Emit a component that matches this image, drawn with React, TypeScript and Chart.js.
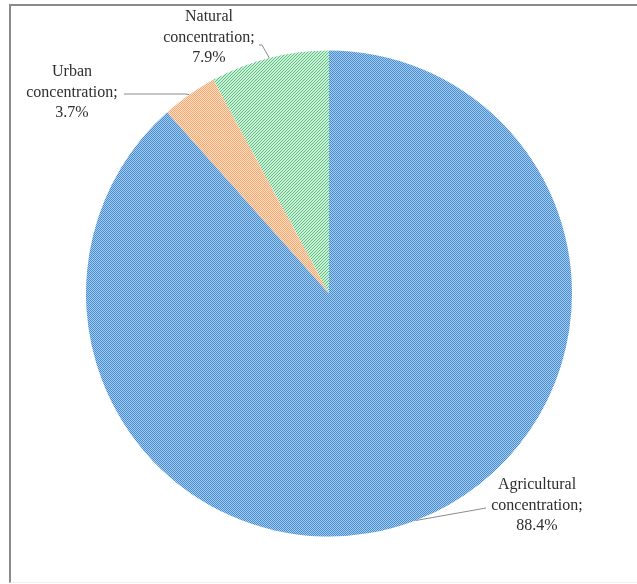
import React, { useEffect, useRef } from "react";
import { Chart, registerables } from "chart.js";

Chart.register(...registerables);

const categories = ["Agricultural", "Urban", "Natural"];
const values = [88.4, 3.7, 7.9];
const labelSuffix = "concentration;";

// label layout: text block centre x, first line centre y, leader elbow points
const labelBoxes = [
  { cx: 537, cy: 485, path: [[486, 508]] },
  { cx: 72, cy: 72, path: [[186, 94], [124, 94]] },
  { cx: 209, cy: 17, path: [[262, 45], [259, 45]] },
];

function makePattern(kind: string): CanvasPattern | string {
  const c = document.createElement("canvas");
  const ctx = c.getContext("2d")!;
  if (kind === "blue") {
    c.width = 2; c.height = 2;
    ctx.fillStyle = "#a4ccf0"; ctx.fillRect(0, 0, 2, 2);
    ctx.fillStyle = "#4a8dce"; ctx.fillRect(0, 0, 1, 1); ctx.fillRect(1, 1, 1, 1);
  } else if (kind === "orange") {
    c.width = 2; c.height = 2;
    ctx.fillStyle = "#fcdcc2"; ctx.fillRect(0, 0, 2, 2);
    ctx.fillStyle = "#f2a972"; ctx.fillRect(0, 0, 1, 1); ctx.fillRect(1, 1, 1, 1);
  } else {
    c.width = 3; c.height = 3;
    ctx.fillStyle = "#cdf0d9"; ctx.fillRect(0, 0, 3, 3);
    ctx.fillStyle = "#5dbd7e";
    ctx.fillRect(2, 0, 1, 1); ctx.fillRect(1, 1, 1, 1); ctx.fillRect(0, 2, 1, 1);
  }
  return ctx.createPattern(c, "repeat") || "#5b9bd5";
}

const labelPlugin = {
  id: "pieLabels",
  afterDatasetsDraw(chart: any) {
    const ctx = chart.ctx;
    const meta = chart.getDatasetMeta(0);
    ctx.save();
    meta.data.forEach((arc: any, i: number) => {
      const p = arc.getProps(["x", "y", "startAngle", "endAngle", "outerRadius"], true);
      const mid = (p.startAngle + p.endAngle) / 2;
      const px = p.x + Math.cos(mid) * p.outerRadius;
      const py = p.y + Math.sin(mid) * p.outerRadius;
      const box = labelBoxes[i];
      ctx.strokeStyle = "#8c8c8c";
      ctx.lineWidth = 1;
      ctx.beginPath();
      ctx.moveTo(px, py);
      box.path.forEach((pt) => ctx.lineTo(pt[0], pt[1]));
      ctx.stroke();
      const lines = [categories[i], labelSuffix, values[i].toFixed(1) + "%"];
      ctx.fillStyle = "#2e2e2e";
      ctx.font = '16px "Liberation Serif", "Times New Roman", serif';
      ctx.textAlign = "center";
      ctx.textBaseline = "middle";
      lines.forEach((t, k) => ctx.fillText(t, box.cx, box.cy + k * 20.5));
    });
    ctx.restore();
  },
};

export default function App() {
  const ref = useRef<HTMLCanvasElement>(null);
  useEffect(() => {
    const canvas = ref.current!;
    const chart = new Chart(canvas, {
      type: "pie",
      data: {
        labels: categories,
        datasets: [
          {
            data: values,
            backgroundColor: [makePattern("blue"), makePattern("orange"), makePattern("green")] as any,
            borderWidth: 0,
          },
        ],
      },
      options: {
        animation: false,
        responsive: false,
        events: [],
        layout: { padding: { top: 49, bottom: 46, left: 86, right: 65 } },
        plugins: { legend: { display: false }, tooltip: { enabled: false } },
      },
      plugins: [labelPlugin],
    });
    return () => chart.destroy();
  }, []);
  return (
    <div style={{ position: "fixed", left: 0, top: 0, width: 637, height: 584, background: "#fff" }}>
      <canvas ref={ref} width={637} height={584} style={{ position: "absolute", left: 0, top: 0, width: 637, height: 584 }} />
      <div
        style={{
          position: "absolute",
          left: 9,
          top: 4,
          width: 640,
          height: 576,
          borderTop: "2px solid #8a8a8a",
          borderLeft: "2px solid #8a8a8a",
          borderBottom: "1px solid #f0f0f0",
          pointerEvents: "none",
        }}
      />
    </div>
  );
}
